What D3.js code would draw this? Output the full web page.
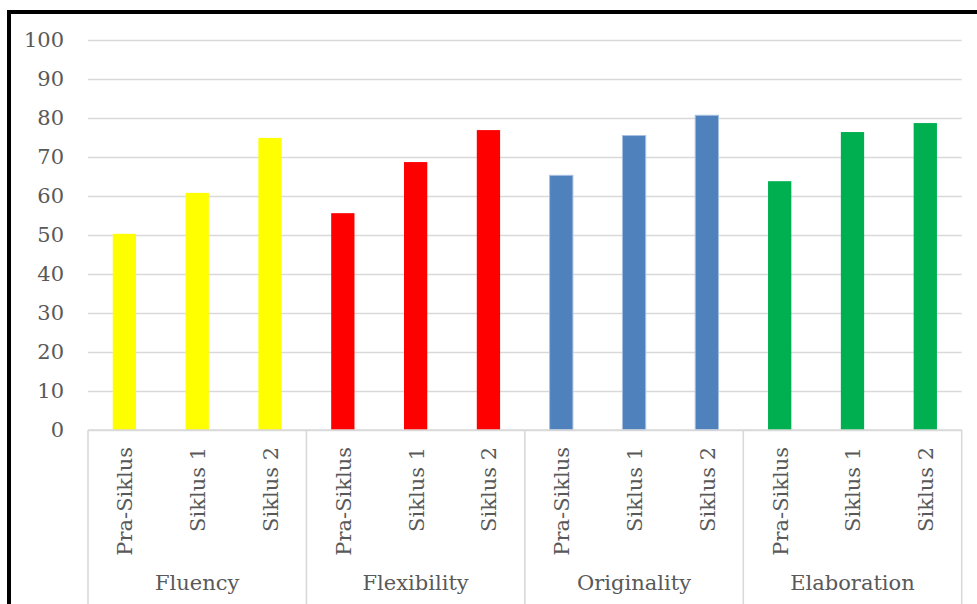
<!DOCTYPE html>
<html><head><meta charset="utf-8">
<script src="https://cdn.jsdelivr.net/npm/d3@7"></script>
<style>body{margin:0;background:#fff}svg{display:block}</style>
</head><body>
<svg id="c" width="977" height="604"></svg>
<script>
const groups = ["Fluency","Flexibility","Originality","Elaboration"];
const cycles = ["Pra-Siklus","Siklus 1","Siklus 2"];
const fluency = [50.3, 60.8, 74.9];
const flexibility = [55.6, 68.7, 76.9];
const originality = [65.3, 75.5, 80.7];
const elaboration = [63.8, 76.4, 78.7];
const yTicks = [0,10,20,30,40,50,60,70,80,90,100];
const colors = ["#ffff00","#ff0000","#4f81bd","#00b050"];

(function(){
const series = [fluency, flexibility, originality, elaboration];
const rows = [];
groups.forEach((g,gi)=>cycles.forEach((c,ci)=>rows.push({g,c,key:g+"|"+c,v:series[gi][ci],gi})));

const svg = d3.select("#c");
const FONT = "'DejaVu Serif', serif";
const pL=88, pR=961.7, pT=40, pB=430;
const x = d3.scaleBand().domain(rows.map(d=>d.key)).range([pL,pR]).paddingInner(0.68).paddingOuter(0.34);
const xg = d3.scaleBand().domain(groups).range([pL,pR]);
const y = d3.scaleLinear().domain([0,100]).range([pB,pT]);

// frame
svg.append("line").attr("x1",9).attr("x2",9).attr("y1",10).attr("y2",604).attr("stroke","#000").attr("stroke-width",4);
svg.append("line").attr("x1",7).attr("x2",977).attr("y1",12).attr("y2",12).attr("stroke","#000").attr("stroke-width",4);

// gridlines
const yAxis = d3.axisLeft(y).tickValues(yTicks).tickSize(-(pR-pL)).tickPadding(24);
const ga = svg.append("g").attr("transform",`translate(${pL},0)`).call(yAxis);
ga.select(".domain").remove();
ga.selectAll(".tick line").attr("stroke","#d9d9d9").attr("stroke-width",1.6);
ga.selectAll(".tick text").attr("fill","#595959").style("font-family",FONT).style("font-size","21px");

// bars
svg.selectAll("rect.bar").data(rows).join("rect").attr("class","bar")
  .attr("x",d=>x(d.key)).attr("width",x.bandwidth())
  .attr("y",d=>y(d.v)).attr("height",d=>y(0)-y(d.v))
  .attr("fill",d=>colors[d.gi])
  .attr("stroke",d=>d.gi===2?"#a7c0e0":"none").attr("stroke-width",1);

// category axis
svg.append("line").attr("x1",pL).attr("x2",pR).attr("y1",pB).attr("y2",pB).attr("stroke","#d9d9d9").attr("stroke-width",1.6);
const seps = groups.map(g=>xg(g)).concat([pR]);
svg.selectAll("line.sep").data(seps).join("line").attr("class","sep")
  .attr("x1",d=>d).attr("x2",d=>d).attr("y1",pB).attr("y2",604)
  .attr("stroke","#d9d9d9").attr("stroke-width",1.6);

svg.selectAll("text.cyc").data(rows).join("text").attr("class","cyc")
  .attr("transform",d=>`translate(${x(d.key)+x.bandwidth()/2+8},447) rotate(-90)`)
  .attr("text-anchor","end").attr("fill","#595959")
  .style("font-family",FONT).style("font-size","21px").text(d=>d.c);

svg.selectAll("text.grp").data(groups).join("text").attr("class","grp")
  .attr("x",d=>xg(d)+xg.bandwidth()/2).attr("y",590)
  .attr("text-anchor","middle").attr("fill","#595959")
  .style("font-family",FONT).style("font-size","21px").text(d=>d);
})();
</script>
</body></html>
